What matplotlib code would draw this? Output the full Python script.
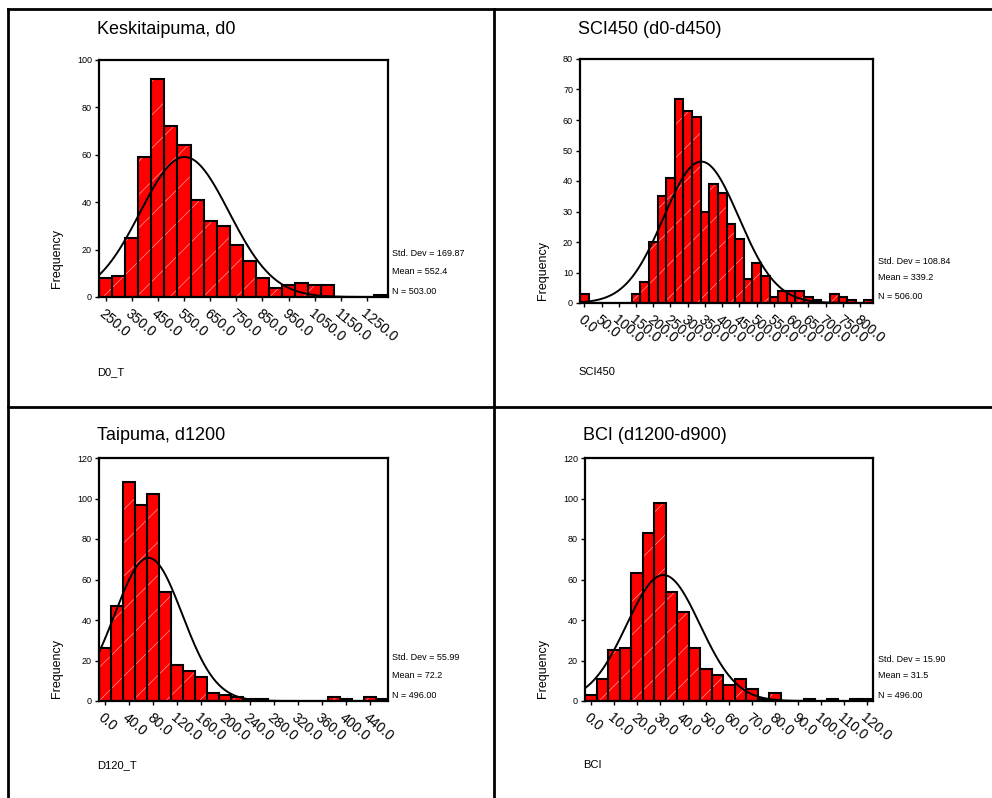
import numpy as np
import matplotlib
matplotlib.use("Agg")
import matplotlib.pyplot as plt
from matplotlib.lines import Line2D

plt.rcParams['font.family'] = ['Liberation Sans', 'DejaVu Sans']
plt.rcParams['hatch.linewidth'] = 0.5

W, H = 992, 798

# --- Keskitaipuma, d0 ---
d0_bins = [250, 300, 350, 400, 450, 500, 550, 600, 650, 700, 750, 800,
           850, 900, 950, 1000, 1050, 1100, 1150, 1200, 1250, 1300]
d0_counts = [8, 9, 25, 59, 92, 72, 64, 41, 32, 30, 22, 15,
             8, 4, 5, 6, 5, 5, 0, 0, 0, 1]
d0_ticks = [250, 350, 450, 550, 650, 750, 850, 950, 1050, 1150, 1250]

# --- SCI450 (d0-d450) ---
sci_bins = [0, 25, 50, 75, 100, 125, 150, 175, 200, 225, 250, 275, 300, 325,
            350, 375, 400, 425, 450, 475, 500, 525, 550, 575, 600, 625, 650,
            675, 700, 725, 750, 775, 800, 825]
sci_counts = [3, 0, 0, 0, 0, 0, 3, 7, 20, 35, 41, 67, 63, 61,
              30, 39, 36, 26, 21, 8, 13, 9, 2, 4, 4, 4, 2,
              1, 0, 3, 2, 1, 0, 1]
sci_ticks = [0, 50, 100, 150, 200, 250, 300, 350, 400, 450, 500, 550, 600,
             650, 700, 750, 800]

# --- Taipuma, d1200 ---
d120_bins = [0, 20, 40, 60, 80, 100, 120, 140, 160, 180, 200, 220, 240, 260,
             280, 300, 320, 340, 360, 380, 400, 420, 440, 460]
d120_counts = [26, 47, 108, 97, 102, 54, 18, 15, 12, 4, 3, 2, 1, 1,
               0, 0, 0, 0, 0, 2, 1, 0, 2, 1]
d120_ticks = [0, 40, 80, 120, 160, 200, 240, 280, 320, 360, 400, 440]

# --- BCI (d1200-d900) ---
bci_bins = [0, 5, 10, 15, 20, 25, 30, 35, 40, 45, 50, 55, 60, 65, 70, 75,
            80, 85, 90, 95, 100, 105, 110, 115, 120]
bci_counts = [3, 11, 25, 26, 63, 83, 98, 54, 44, 26, 16, 13, 8, 11, 6, 1,
              4, 0, 0, 1, 0, 1, 0, 1, 1]
bci_ticks = [0, 10, 20, 30, 40, 50, 60, 70, 80, 90, 100, 110, 120]

panels = [
    dict(title='Keskitaipuma, d0', xlabel='D0_T', bins=d0_bins, counts=d0_counts,
         ticks=d0_ticks, width=50, xlim=(225, 1330), ylim=100, yticks=[0, 20, 40, 60, 80, 100],
         sd=169.87, mean=552.4, n=503, stats=('Std. Dev = 169.87', 'Mean = 552.4', 'N = 503.00'),
         box=(99, 60, 388, 297), title_xy=(97, 30), xlab_xy=(97, 372), freq_xy=(57, 259),
         stat_xy=(392, (253, 272, 291))),
    dict(title='SCI450 (d0-d450)', xlabel='SCI450', bins=sci_bins, counts=sci_counts,
         ticks=sci_ticks, width=25, xlim=(-12.5, 837.5), ylim=80,
         yticks=[0, 10, 20, 30, 40, 50, 60, 70, 80],
         sd=108.84, mean=339.2, n=506, stats=('Std. Dev = 108.84', 'Mean = 339.2', 'N = 506.00'),
         box=(580, 59, 873, 303), title_xy=(578, 30), xlab_xy=(578, 372), freq_xy=(543, 270),
         stat_xy=(878, (261, 277, 297))),
    dict(title='Taipuma, d1200', xlabel='D120_T', bins=d120_bins, counts=d120_counts,
         ticks=d120_ticks, width=20, xlim=(-10, 470), ylim=120,
         yticks=[0, 20, 40, 60, 80, 100, 120],
         sd=55.99, mean=72.2, n=496, stats=('Std. Dev = 55.99', 'Mean = 72.2', 'N = 496.00'),
         box=(99, 458, 388, 701), title_xy=(97, 435), xlab_xy=(97, 765), freq_xy=(57, 668),
         stat_xy=(392, (658, 675, 695))),
    dict(title='BCI (d1200-d900)', xlabel='BCI', bins=bci_bins, counts=bci_counts,
         ticks=bci_ticks, width=5, xlim=(-2.5, 122.5), ylim=120,
         yticks=[0, 20, 40, 60, 80, 100, 120],
         sd=15.90, mean=31.5, n=496, stats=('Std. Dev = 15.90', 'Mean = 31.5', 'N = 496.00'),
         box=(585, 458, 873, 701), title_xy=(583, 435), xlab_xy=(583, 765), freq_xy=(543, 668),
         stat_xy=(878, (659, 675, 695))),
]


def fx(x):
    return x / W


def fy(y):
    return 1 - y / H


fig = plt.figure(figsize=(W / 100, H / 100), dpi=100)

for p in panels:
    x0, y0, x1, y1 = p['box']
    ax = fig.add_axes([fx(x0), fy(y1), (x1 - x0) / W, (y1 - y0) / H])

    # red bars with faint white diagonal pattern, then black outlines
    ax.bar(p['bins'], p['counts'], width=p['width'], color='#ff0000',
           edgecolor='#ff9a9a', hatch='/', linewidth=0, zorder=2)
    ax.bar(p['bins'], p['counts'], width=p['width'], fill=False,
           edgecolor='black', linewidth=1.5, zorder=3)

    # fitted normal curve from the printed statistics
    xs = np.linspace(p['xlim'][0], p['xlim'][1], 400)
    ys = p['n'] * p['width'] / (p['sd'] * np.sqrt(2 * np.pi)) * \
        np.exp(-0.5 * ((xs - p['mean']) / p['sd']) ** 2)
    ax.plot(xs, ys, color='black', linewidth=1.4, zorder=4)

    ax.set_xlim(*p['xlim'])
    ax.set_ylim(0, p['ylim'])
    ax.set_yticks(p['yticks'])
    ax.set_xticks(p['ticks'])
    ax.set_xticklabels([f'{t:.1f}' for t in p['ticks']], rotation=-40,
                       ha='left', va='top', rotation_mode='anchor', fontsize=10)
    ax.tick_params(axis='y', labelsize=6.5, length=3, width=1, pad=2)
    ax.tick_params(axis='x', length=3, width=1, pad=4)
    for s in ax.spines.values():
        s.set_linewidth(1.6)

    fig.text(fx(p['title_xy'][0]), fy(p['title_xy'][1]), p['title'],
             fontsize=13, ha='left', va='center')
    fig.text(fx(p['xlab_xy'][0]), fy(p['xlab_xy'][1]), p['xlabel'],
             fontsize=8, ha='left', va='center')
    fig.text(fx(p['freq_xy'][0]), fy(p['freq_xy'][1]), 'Frequency',
             fontsize=9, rotation=90, ha='center', va='center')
    sx, sys_ = p['stat_xy']
    for txt, yy in zip(p['stats'], sys_):
        fig.text(fx(sx), fy(yy), txt, fontsize=6.5, ha='left', va='center')

# page frame lines
for (xa, ya, xb, yb) in [(8, 9, W, 9), (8, 9, 8, H), (8, 407, W, 407), (494, 9, 494, H)]:
    fig.add_artist(Line2D([fx(xa), fx(xb)], [fy(ya), fy(yb)],
                          transform=fig.transFigure, color='black', linewidth=2))

fig.savefig('out.png', dpi=100)
